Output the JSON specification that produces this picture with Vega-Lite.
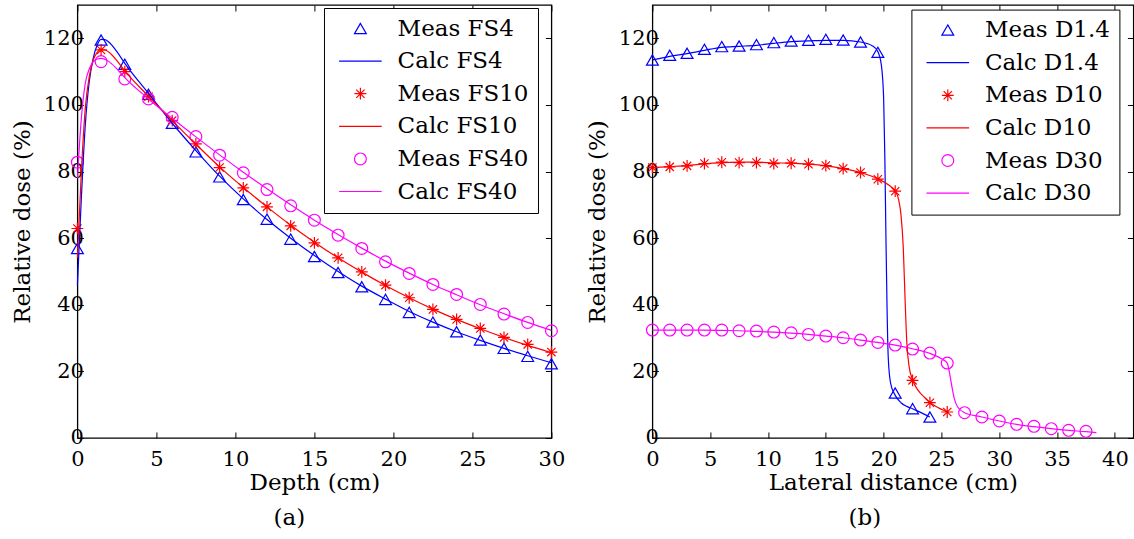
{
  "$schema": "https://vega.github.io/schema/vega-lite/v6.json",
  "padding": {"left": 10.4, "top": 3, "right": 0, "bottom": 0},
  "spacing": 19,
  "datasets": {
    "a": [
      {"s":"Meas FS4","t":"m","x":0,"y":56.9},{"s":"Meas FS4","t":"m","x":1.5,"y":119.5},{"s":"Meas FS4","t":"m","x":3,"y":112.2},{"s":"Meas FS4","t":"m","x":4.5,"y":103.2},{"s":"Meas FS4","t":"m","x":6,"y":94.5},{"s":"Meas FS4","t":"m","x":7.5,"y":85.9},{"s":"Meas FS4","t":"m","x":9,"y":78.4},{"s":"Meas FS4","t":"m","x":10.5,"y":71.6},{"s":"Meas FS4","t":"m","x":12,"y":65.7},{"s":"Meas FS4","t":"m","x":13.5,"y":59.7},{"s":"Meas FS4","t":"m","x":15,"y":54.5},{"s":"Meas FS4","t":"m","x":16.5,"y":49.7},{"s":"Meas FS4","t":"m","x":18,"y":45.4},{"s":"Meas FS4","t":"m","x":19.5,"y":41.6},{"s":"Meas FS4","t":"m","x":21,"y":37.7},{"s":"Meas FS4","t":"m","x":22.5,"y":34.8},{"s":"Meas FS4","t":"m","x":24,"y":31.9},{"s":"Meas FS4","t":"m","x":25.5,"y":29.4},{"s":"Meas FS4","t":"m","x":27,"y":26.9},{"s":"Meas FS4","t":"m","x":28.5,"y":24.5},{"s":"Meas FS4","t":"m","x":30,"y":22.3},
      {"s":"Meas FS10","t":"m","x":0,"y":62.9},{"s":"Meas FS10","t":"m","x":1.5,"y":116.5},{"s":"Meas FS10","t":"m","x":3,"y":110},{"s":"Meas FS10","t":"m","x":4.5,"y":102.5},{"s":"Meas FS10","t":"m","x":6,"y":95.3},{"s":"Meas FS10","t":"m","x":7.5,"y":88.3},{"s":"Meas FS10","t":"m","x":9,"y":81.2},{"s":"Meas FS10","t":"m","x":10.5,"y":75.1},{"s":"Meas FS10","t":"m","x":12,"y":69.4},{"s":"Meas FS10","t":"m","x":13.5,"y":63.7},{"s":"Meas FS10","t":"m","x":15,"y":58.6},{"s":"Meas FS10","t":"m","x":16.5,"y":54.1},{"s":"Meas FS10","t":"m","x":18,"y":49.9},{"s":"Meas FS10","t":"m","x":19.5,"y":45.9},{"s":"Meas FS10","t":"m","x":21,"y":42.1},{"s":"Meas FS10","t":"m","x":22.5,"y":38.6},{"s":"Meas FS10","t":"m","x":24,"y":35.6},{"s":"Meas FS10","t":"m","x":25.5,"y":32.9},{"s":"Meas FS10","t":"m","x":27,"y":30.2},{"s":"Meas FS10","t":"m","x":28.5,"y":28.1},{"s":"Meas FS10","t":"m","x":30,"y":25.8},
      {"s":"Meas FS40","t":"m","x":0,"y":82.8},{"s":"Meas FS40","t":"m","x":1.5,"y":113},{"s":"Meas FS40","t":"m","x":3,"y":107.8},{"s":"Meas FS40","t":"m","x":4.5,"y":101.8},{"s":"Meas FS40","t":"m","x":6,"y":96.3},{"s":"Meas FS40","t":"m","x":7.5,"y":90.5},{"s":"Meas FS40","t":"m","x":9,"y":84.9},{"s":"Meas FS40","t":"m","x":10.5,"y":79.6},{"s":"Meas FS40","t":"m","x":12,"y":74.6},{"s":"Meas FS40","t":"m","x":13.5,"y":69.7},{"s":"Meas FS40","t":"m","x":15,"y":65.4},{"s":"Meas FS40","t":"m","x":16.5,"y":60.9},{"s":"Meas FS40","t":"m","x":18,"y":56.9},{"s":"Meas FS40","t":"m","x":19.5,"y":52.9},{"s":"Meas FS40","t":"m","x":21,"y":49.4},{"s":"Meas FS40","t":"m","x":22.5,"y":46.1},{"s":"Meas FS40","t":"m","x":24,"y":43.1},{"s":"Meas FS40","t":"m","x":25.5,"y":40.1},{"s":"Meas FS40","t":"m","x":27,"y":37.2},{"s":"Meas FS40","t":"m","x":28.5,"y":34.7},{"s":"Meas FS40","t":"m","x":30,"y":32.2},
      {"s":"Calc FS4","t":"c","x":0,"y":46},{"s":"Calc FS4","t":"c","x":0.25,"y":72},{"s":"Calc FS4","t":"c","x":0.5,"y":94},{"s":"Calc FS4","t":"c","x":0.75,"y":107},{"s":"Calc FS4","t":"c","x":1,"y":114},{"s":"Calc FS4","t":"c","x":1.25,"y":118},{"s":"Calc FS4","t":"c","x":1.5,"y":119.7},{"s":"Calc FS4","t":"c","x":1.75,"y":119.6},{"s":"Calc FS4","t":"c","x":2,"y":118.8},{"s":"Calc FS4","t":"c","x":2.5,"y":116},{"s":"Calc FS4","t":"c","x":3,"y":112.5},{"s":"Calc FS4","t":"c","x":4.5,"y":103.5},{"s":"Calc FS4","t":"c","x":6,"y":94.5},{"s":"Calc FS4","t":"c","x":7.5,"y":86.3},{"s":"Calc FS4","t":"c","x":9,"y":78.6},{"s":"Calc FS4","t":"c","x":10.5,"y":71.8},{"s":"Calc FS4","t":"c","x":12,"y":65.6},{"s":"Calc FS4","t":"c","x":13.5,"y":60},{"s":"Calc FS4","t":"c","x":15,"y":54.8},{"s":"Calc FS4","t":"c","x":16.5,"y":50},{"s":"Calc FS4","t":"c","x":18,"y":45.6},{"s":"Calc FS4","t":"c","x":19.5,"y":41.7},{"s":"Calc FS4","t":"c","x":21,"y":38},{"s":"Calc FS4","t":"c","x":22.5,"y":34.8},{"s":"Calc FS4","t":"c","x":24,"y":31.9},{"s":"Calc FS4","t":"c","x":25.5,"y":29.3},{"s":"Calc FS4","t":"c","x":27,"y":26.9},{"s":"Calc FS4","t":"c","x":28.5,"y":24.7},{"s":"Calc FS4","t":"c","x":30,"y":22.6},
      {"s":"Calc FS10","t":"c","x":0,"y":54},{"s":"Calc FS10","t":"c","x":0.25,"y":80},{"s":"Calc FS10","t":"c","x":0.5,"y":99},{"s":"Calc FS10","t":"c","x":0.75,"y":108.5},{"s":"Calc FS10","t":"c","x":1,"y":113.5},{"s":"Calc FS10","t":"c","x":1.25,"y":115.8},{"s":"Calc FS10","t":"c","x":1.5,"y":116.6},{"s":"Calc FS10","t":"c","x":1.75,"y":116.5},{"s":"Calc FS10","t":"c","x":2,"y":115.8},{"s":"Calc FS10","t":"c","x":2.5,"y":113.3},{"s":"Calc FS10","t":"c","x":3,"y":110.2},{"s":"Calc FS10","t":"c","x":4.5,"y":102.6},{"s":"Calc FS10","t":"c","x":6,"y":95.3},{"s":"Calc FS10","t":"c","x":7.5,"y":88.2},{"s":"Calc FS10","t":"c","x":9,"y":81.4},{"s":"Calc FS10","t":"c","x":10.5,"y":75.2},{"s":"Calc FS10","t":"c","x":12,"y":69.4},{"s":"Calc FS10","t":"c","x":13.5,"y":63.9},{"s":"Calc FS10","t":"c","x":15,"y":58.8},{"s":"Calc FS10","t":"c","x":16.5,"y":54.1},{"s":"Calc FS10","t":"c","x":18,"y":49.8},{"s":"Calc FS10","t":"c","x":19.5,"y":45.8},{"s":"Calc FS10","t":"c","x":21,"y":42.1},{"s":"Calc FS10","t":"c","x":22.5,"y":38.7},{"s":"Calc FS10","t":"c","x":24,"y":35.6},{"s":"Calc FS10","t":"c","x":25.5,"y":32.8},{"s":"Calc FS10","t":"c","x":27,"y":30.2},{"s":"Calc FS10","t":"c","x":28.5,"y":27.8},{"s":"Calc FS10","t":"c","x":30,"y":25.6},
      {"s":"Calc FS40","t":"c","x":0,"y":78},{"s":"Calc FS40","t":"c","x":0.25,"y":96},{"s":"Calc FS40","t":"c","x":0.5,"y":106.5},{"s":"Calc FS40","t":"c","x":0.75,"y":110.8},{"s":"Calc FS40","t":"c","x":1,"y":112.9},{"s":"Calc FS40","t":"c","x":1.25,"y":113.8},{"s":"Calc FS40","t":"c","x":1.5,"y":114},{"s":"Calc FS40","t":"c","x":2,"y":113},{"s":"Calc FS40","t":"c","x":2.5,"y":110.8},{"s":"Calc FS40","t":"c","x":3,"y":108.2},{"s":"Calc FS40","t":"c","x":4.5,"y":101.8},{"s":"Calc FS40","t":"c","x":6,"y":96},{"s":"Calc FS40","t":"c","x":7.5,"y":90.4},{"s":"Calc FS40","t":"c","x":9,"y":85},{"s":"Calc FS40","t":"c","x":10.5,"y":79.8},{"s":"Calc FS40","t":"c","x":12,"y":74.8},{"s":"Calc FS40","t":"c","x":13.5,"y":70},{"s":"Calc FS40","t":"c","x":15,"y":65.4},{"s":"Calc FS40","t":"c","x":16.5,"y":61.1},{"s":"Calc FS40","t":"c","x":18,"y":57},{"s":"Calc FS40","t":"c","x":19.5,"y":53.1},{"s":"Calc FS40","t":"c","x":21,"y":49.5},{"s":"Calc FS40","t":"c","x":22.5,"y":46.1},{"s":"Calc FS40","t":"c","x":24,"y":43},{"s":"Calc FS40","t":"c","x":25.5,"y":40},{"s":"Calc FS40","t":"c","x":27,"y":37.3},{"s":"Calc FS40","t":"c","x":28.5,"y":34.7},{"s":"Calc FS40","t":"c","x":30,"y":32.3}
    ],
    "b": [
      {"s":"Meas D1.4","t":"m","x":0,"y":113.5},{"s":"Meas D1.4","t":"m","x":1.5,"y":114.9},{"s":"Meas D1.4","t":"m","x":3,"y":115.5},{"s":"Meas D1.4","t":"m","x":4.5,"y":116.7},{"s":"Meas D1.4","t":"m","x":6,"y":117.5},{"s":"Meas D1.4","t":"m","x":7.5,"y":117.7},{"s":"Meas D1.4","t":"m","x":9,"y":118.1},{"s":"Meas D1.4","t":"m","x":10.5,"y":118.7},{"s":"Meas D1.4","t":"m","x":12,"y":119.2},{"s":"Meas D1.4","t":"m","x":13.5,"y":119.4},{"s":"Meas D1.4","t":"m","x":15,"y":119.7},{"s":"Meas D1.4","t":"m","x":16.5,"y":119.5},{"s":"Meas D1.4","t":"m","x":18,"y":118.9},{"s":"Meas D1.4","t":"m","x":19.5,"y":115.8},{"s":"Meas D1.4","t":"m","x":21,"y":13.5},{"s":"Meas D1.4","t":"m","x":22.5,"y":8.8},{"s":"Meas D1.4","t":"m","x":24,"y":6.3},
      {"s":"Meas D10","t":"m","x":0,"y":81.2},{"s":"Meas D10","t":"m","x":1.5,"y":81.4},{"s":"Meas D10","t":"m","x":3,"y":81.7},{"s":"Meas D10","t":"m","x":4.5,"y":82.4},{"s":"Meas D10","t":"m","x":6,"y":82.8},{"s":"Meas D10","t":"m","x":7.5,"y":82.7},{"s":"Meas D10","t":"m","x":9,"y":82.7},{"s":"Meas D10","t":"m","x":10.5,"y":82.4},{"s":"Meas D10","t":"m","x":12,"y":82.5},{"s":"Meas D10","t":"m","x":13.5,"y":82.2},{"s":"Meas D10","t":"m","x":15,"y":81.8},{"s":"Meas D10","t":"m","x":16.5,"y":80.9},{"s":"Meas D10","t":"m","x":18,"y":79.7},{"s":"Meas D10","t":"m","x":19.5,"y":77.7},{"s":"Meas D10","t":"m","x":21,"y":74.1},{"s":"Meas D10","t":"m","x":22.5,"y":17.3},{"s":"Meas D10","t":"m","x":24,"y":10.6},{"s":"Meas D10","t":"m","x":25.5,"y":7.8},
      {"s":"Meas D30","t":"m","x":0,"y":32.4},{"s":"Meas D30","t":"m","x":1.5,"y":32.4},{"s":"Meas D30","t":"m","x":3,"y":32.4},{"s":"Meas D30","t":"m","x":4.5,"y":32.4},{"s":"Meas D30","t":"m","x":6,"y":32.4},{"s":"Meas D30","t":"m","x":7.5,"y":32.2},{"s":"Meas D30","t":"m","x":9,"y":32.1},{"s":"Meas D30","t":"m","x":10.5,"y":31.8},{"s":"Meas D30","t":"m","x":12,"y":31.6},{"s":"Meas D30","t":"m","x":13.5,"y":31.1},{"s":"Meas D30","t":"m","x":15,"y":30.6},{"s":"Meas D30","t":"m","x":16.5,"y":30.1},{"s":"Meas D30","t":"m","x":18,"y":29.4},{"s":"Meas D30","t":"m","x":19.5,"y":28.7},{"s":"Meas D30","t":"m","x":21,"y":27.9},{"s":"Meas D30","t":"m","x":22.5,"y":26.7},{"s":"Meas D30","t":"m","x":24,"y":25.5},{"s":"Meas D30","t":"m","x":25.5,"y":22.5},{"s":"Meas D30","t":"m","x":27,"y":7.6},{"s":"Meas D30","t":"m","x":28.5,"y":6.3},{"s":"Meas D30","t":"m","x":30,"y":5.1},{"s":"Meas D30","t":"m","x":31.5,"y":4.1},{"s":"Meas D30","t":"m","x":33,"y":3.5},{"s":"Meas D30","t":"m","x":34.5,"y":2.8},{"s":"Meas D30","t":"m","x":36,"y":2.3},{"s":"Meas D30","t":"m","x":37.5,"y":2.0},
      {"s":"Calc D1.4","t":"c","x":0,"y":113.5},{"s":"Calc D1.4","t":"c","x":1.5,"y":114.6},{"s":"Calc D1.4","t":"c","x":3,"y":115.4},{"s":"Calc D1.4","t":"c","x":4.5,"y":116.4},{"s":"Calc D1.4","t":"c","x":6,"y":117.3},{"s":"Calc D1.4","t":"c","x":7.5,"y":117.6},{"s":"Calc D1.4","t":"c","x":9,"y":117.9},{"s":"Calc D1.4","t":"c","x":10.5,"y":118.5},{"s":"Calc D1.4","t":"c","x":12,"y":119},{"s":"Calc D1.4","t":"c","x":13.5,"y":119.2},{"s":"Calc D1.4","t":"c","x":15,"y":119.4},{"s":"Calc D1.4","t":"c","x":16.5,"y":119.4},{"s":"Calc D1.4","t":"c","x":18,"y":118.9},{"s":"Calc D1.4","t":"c","x":19,"y":117.8},{"s":"Calc D1.4","t":"c","x":19.5,"y":116},{"s":"Calc D1.4","t":"c","x":19.8,"y":112},{"s":"Calc D1.4","t":"c","x":20,"y":102},{"s":"Calc D1.4","t":"c","x":20.1,"y":85},{"s":"Calc D1.4","t":"c","x":20.2,"y":60},{"s":"Calc D1.4","t":"c","x":20.3,"y":38},{"s":"Calc D1.4","t":"c","x":20.4,"y":24},{"s":"Calc D1.4","t":"c","x":20.6,"y":16.5},{"s":"Calc D1.4","t":"c","x":21,"y":12.8},{"s":"Calc D1.4","t":"c","x":21.5,"y":10.6},{"s":"Calc D1.4","t":"c","x":22,"y":9.5},{"s":"Calc D1.4","t":"c","x":22.5,"y":8.8},{"s":"Calc D1.4","t":"c","x":23,"y":8},{"s":"Calc D1.4","t":"c","x":24,"y":6.3},
      {"s":"Calc D10","t":"c","x":0,"y":81.2},{"s":"Calc D10","t":"c","x":1.5,"y":81.5},{"s":"Calc D10","t":"c","x":3,"y":81.8},{"s":"Calc D10","t":"c","x":4.5,"y":82.3},{"s":"Calc D10","t":"c","x":6,"y":82.7},{"s":"Calc D10","t":"c","x":7.5,"y":82.8},{"s":"Calc D10","t":"c","x":9,"y":82.8},{"s":"Calc D10","t":"c","x":10.5,"y":82.6},{"s":"Calc D10","t":"c","x":12,"y":82.5},{"s":"Calc D10","t":"c","x":13.5,"y":82.2},{"s":"Calc D10","t":"c","x":15,"y":81.7},{"s":"Calc D10","t":"c","x":16.5,"y":80.9},{"s":"Calc D10","t":"c","x":18,"y":79.7},{"s":"Calc D10","t":"c","x":19.5,"y":77.8},{"s":"Calc D10","t":"c","x":20.5,"y":75.8},{"s":"Calc D10","t":"c","x":21,"y":74.2},{"s":"Calc D10","t":"c","x":21.3,"y":71.5},{"s":"Calc D10","t":"c","x":21.5,"y":67},{"s":"Calc D10","t":"c","x":21.7,"y":57},{"s":"Calc D10","t":"c","x":21.85,"y":42},{"s":"Calc D10","t":"c","x":22,"y":29},{"s":"Calc D10","t":"c","x":22.2,"y":21.5},{"s":"Calc D10","t":"c","x":22.5,"y":17.5},{"s":"Calc D10","t":"c","x":23,"y":14.2},{"s":"Calc D10","t":"c","x":23.5,"y":12.3},{"s":"Calc D10","t":"c","x":24,"y":10.7},{"s":"Calc D10","t":"c","x":24.5,"y":9.5},{"s":"Calc D10","t":"c","x":25.5,"y":7.8},
      {"s":"Calc D30","t":"c","x":0,"y":32.4},{"s":"Calc D30","t":"c","x":1.5,"y":32.4},{"s":"Calc D30","t":"c","x":3,"y":32.4},{"s":"Calc D30","t":"c","x":4.5,"y":32.4},{"s":"Calc D30","t":"c","x":6,"y":32.3},{"s":"Calc D30","t":"c","x":7.5,"y":32.2},{"s":"Calc D30","t":"c","x":9,"y":32},{"s":"Calc D30","t":"c","x":10.5,"y":31.8},{"s":"Calc D30","t":"c","x":12,"y":31.5},{"s":"Calc D30","t":"c","x":13.5,"y":31.1},{"s":"Calc D30","t":"c","x":15,"y":30.6},{"s":"Calc D30","t":"c","x":16.5,"y":30.1},{"s":"Calc D30","t":"c","x":18,"y":29.4},{"s":"Calc D30","t":"c","x":19.5,"y":28.7},{"s":"Calc D30","t":"c","x":21,"y":27.9},{"s":"Calc D30","t":"c","x":22.5,"y":26.8},{"s":"Calc D30","t":"c","x":24,"y":25.4},{"s":"Calc D30","t":"c","x":25,"y":23.8},{"s":"Calc D30","t":"c","x":25.5,"y":22.5},{"s":"Calc D30","t":"c","x":25.7,"y":19.5},{"s":"Calc D30","t":"c","x":25.9,"y":15.5},{"s":"Calc D30","t":"c","x":26.1,"y":12},{"s":"Calc D30","t":"c","x":26.4,"y":9.3},{"s":"Calc D30","t":"c","x":27,"y":7.6},{"s":"Calc D30","t":"c","x":28.5,"y":6.3},{"s":"Calc D30","t":"c","x":30,"y":5.1},{"s":"Calc D30","t":"c","x":31.5,"y":4.1},{"s":"Calc D30","t":"c","x":33,"y":3.4},{"s":"Calc D30","t":"c","x":34.5,"y":2.8},{"s":"Calc D30","t":"c","x":36,"y":2.3},{"s":"Calc D30","t":"c","x":37.5,"y":1.9},{"s":"Calc D30","t":"c","x":38.4,"y":1.6}
    ]
  },
  "hconcat": [
    {
      "width": 474,
      "height": 433,
      "data": {"name": "a"},
      "title": {"text": "(a)", "orient": "bottom", "dx": -25, "offset": 12},
      "resolve": {"axis": {"x": "independent", "y": "independent"}},
      "layer": [
        {
          "transform": [{"filter": "datum.t == 'm'"}],
          "mark": {"type": "point", "filled": false, "size": 140, "strokeWidth": 1.2, "opacity": 1},
          "encoding": {
            "x": {"field": "x", "type": "quantitative", "scale": {"domain": [0, 30], "nice": false, "zero": false}, "axis": {"title": "Depth (cm)", "orient": "bottom", "values": [0,5,10,15,20,25,30]}},
            "y": {"field": "y", "type": "quantitative", "scale": {"domain": [0, 130], "nice": false}, "axis": {"title": "Relative dose (%)", "orient": "left", "values": [0,20,40,60,80,100,120]}},
            "color": {"field": "s", "type": "nominal", "scale": {"domain": ["Meas FS4","Calc FS4","Meas FS10","Calc FS10","Meas FS40","Calc FS40"], "range": ["#0000ff","#0000ff","#ff0000","#ff0000","#ff00ff","#ff00ff"]},
              "legend": {"orient": "none", "legendX": 246.6, "legendY": 3, "title": null}},
            "shape": {"field": "s", "type": "nominal", "scale": {"domain": ["Meas FS4","Calc FS4","Meas FS10","Calc FS10","Meas FS40","Calc FS40"], "range": ["triangle-up","M-3.6,0L3.6,0","M-1,0L1,0M0,-1L0,1M-0.7,-0.7L0.7,0.7M-0.7,0.7L0.7,-0.7","M-3.6,0L3.6,0","circle","M-3.6,0L3.6,0"]},
              "legend": {"orient": "none", "legendX": 246.6, "legendY": 3, "title": null}}
          }
        },
        {
          "transform": [{"filter": "datum.t == 'c'"}],
          "mark": {"type": "line", "strokeWidth": 1.2, "interpolate": "monotone"},
          "encoding": {
            "x": {"field": "x", "type": "quantitative", "axis": {"orient": "top", "labels": false, "title": null, "values": [0,5,10,15,20,25,30]}},
            "y": {"field": "y", "type": "quantitative", "axis": {"orient": "right", "labels": false, "title": null, "values": [0,20,40,60,80,100,120]}},
            "color": {"field": "s", "type": "nominal"}
          }
        }
      ]
    },
    {
      "width": 481,
      "height": 433,
      "data": {"name": "b"},
      "title": {"text": "(b)", "orient": "bottom", "dx": -28, "offset": 12},
      "resolve": {"axis": {"x": "independent", "y": "independent"}},
      "layer": [
        {
          "transform": [{"filter": "datum.t == 'm'"}],
          "mark": {"type": "point", "filled": false, "size": 140, "strokeWidth": 1.2, "opacity": 1},
          "encoding": {
            "x": {"field": "x", "type": "quantitative", "scale": {"domain": [0, 41.6], "nice": false, "zero": false}, "axis": {"title": "Lateral distance (cm)", "orient": "bottom", "values": [0,5,10,15,20,25,30,35,40]}},
            "y": {"field": "y", "type": "quantitative", "scale": {"domain": [0, 130], "nice": false}, "axis": {"title": "Relative dose (%)", "orient": "left", "values": [0,20,40,60,80,100,120]}},
            "color": {"field": "s", "type": "nominal", "scale": {"domain": ["Meas D1.4","Calc D1.4","Meas D10","Calc D10","Meas D30","Calc D30"], "range": ["#0000ff","#0000ff","#ff0000","#ff0000","#ff00ff","#ff00ff"]},
              "legend": {"orient": "none", "legendX": 259, "legendY": 4.6, "title": null}},
            "shape": {"field": "s", "type": "nominal", "scale": {"domain": ["Meas D1.4","Calc D1.4","Meas D10","Calc D10","Meas D30","Calc D30"], "range": ["triangle-up","M-3.6,0L3.6,0","M-1,0L1,0M0,-1L0,1M-0.7,-0.7L0.7,0.7M-0.7,0.7L0.7,-0.7","M-3.6,0L3.6,0","circle","M-3.6,0L3.6,0"]},
              "legend": {"orient": "none", "legendX": 259, "legendY": 4.6, "title": null}}
          }
        },
        {
          "transform": [{"filter": "datum.t == 'c'"}],
          "mark": {"type": "line", "strokeWidth": 1.2, "interpolate": "monotone"},
          "encoding": {
            "x": {"field": "x", "type": "quantitative", "axis": {"orient": "top", "labels": false, "title": null, "values": [0,5,10,15,20,25,30,35,40]}},
            "y": {"field": "y", "type": "quantitative", "axis": {"orient": "right", "labels": false, "title": null, "values": [0,20,40,60,80,100,120]}},
            "color": {"field": "s", "type": "nominal"}
          }
        }
      ]
    }
  ],
  "resolve": {"scale": {"x": "independent", "y": "independent", "color": "independent", "shape": "independent"}, "legend": {"color": "independent", "shape": "independent"}},
  "config": {
    "font": "DejaVu Serif",
    "view": {"stroke": "black", "strokeWidth": 1.3},
    "axis": {"grid": false, "domain": false, "ticks": true, "tickColor": "black", "tickSize": -6, "tickWidth": 1, "labelFont": "DejaVu Serif", "labelFontSize": 21, "labelColor": "black", "labelFlush": false, "labelOverlap": false, "titleFont": "DejaVu Serif", "titleFontSize": 23, "titleFontWeight": "normal", "titleColor": "black"},
    "axisX": {"labelPadding": 17, "titlePadding": 2},
    "axisY": {"labelPadding": 0, "titlePadding": 9},
    "legend": {"labelFont": "DejaVu Serif", "labelFontSize": 23, "labelColor": "black", "strokeColor": "black", "fillColor": "white", "padding": 9, "rowPadding": 8.6, "symbolSize": 140, "symbolStrokeWidth": 1.2, "symbolOffset": 15.9, "labelOffset": 25.7},
    "title": {"font": "DejaVu Serif", "fontSize": 23, "fontWeight": "normal", "color": "black", "anchor": "middle"}
  }
}
